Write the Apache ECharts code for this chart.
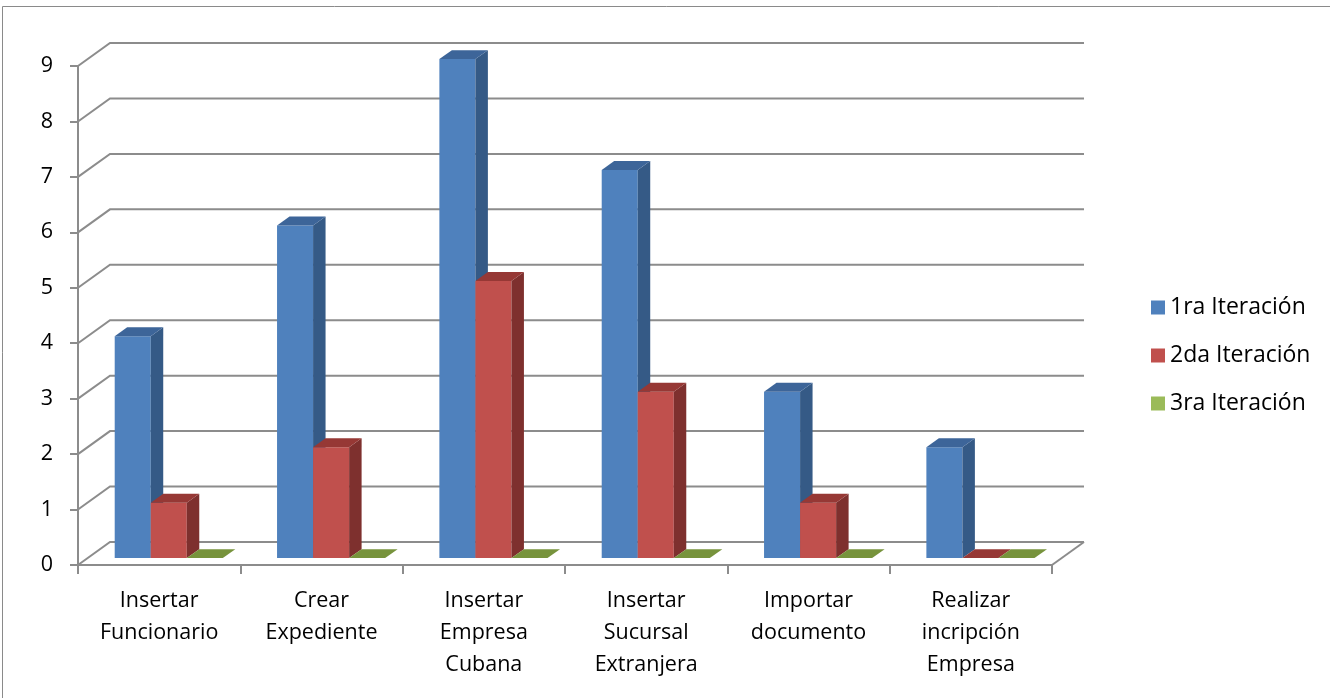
<!DOCTYPE html>
<html>
<head>
<meta charset="utf-8">
<script src="https://cdn.jsdelivr.net/npm/echarts@6/dist/echarts.min.js"></script>
<style>
  html, body { margin: 0; padding: 0; background: #fff; }
  #chart { width: 1330px; height: 698px; }
</style>
</head>
<body>
<div id="chart"></div>
<script>
// Categories (use cases) and defects found per test iteration
const categories = [
  'Insertar\nFuncionario',
  'Crear\nExpediente',
  'Insertar\nEmpresa\nCubana',
  'Insertar\nSucursal\nExtranjera',
  'Importar\ndocumento',
  'Realizar\nincripción\nEmpresa'
];
const seriesNames = ['1ra Iteración', '2da Iteración', '3ra Iteración'];
const iter1 = [4, 6, 9, 7, 3, 2];
const iter2 = [1, 2, 5, 3, 1, 0];
const iter3 = [0, 0, 0, 0, 0, 0];
const yTicks = [0, 1, 2, 3, 4, 5, 6, 7, 8, 9];

// Pseudo-3D look: depth vector of the floor and the slab occupied by the bars
const DEPTH = [32, -23];
const BAR_FRONT = 0.30;
const BAR_BACK = 0.69;
const BAR_FRAC = 0.222;
const GRID_COLOR = '#8c8c8c';
const FONT = '"Open Sans", "Noto Sans", sans-serif';

const palette = [
  { front: '#4F81BD', side: '#355a86', top: '#3d6599', legend: '#4F81BD' },
  { front: '#C0504D', side: '#7e302e', top: '#963835', legend: '#C0504D' },
  { front: '#9BBB59', side: '#6a833a', top: '#77933C', legend: '#9BBB59' }
];

const chart = echarts.init(document.getElementById('chart'), null, { renderer: 'canvas' });

// Side wall diagonals + back wall gridlines, one polyline per tick value
function wallRender(params, api) {
  const v = api.value(1);
  const cw = api.size([1, 0])[0];
  const left = api.coord([0, v])[0] - cw / 2;
  const right = api.coord([categories.length - 1, v])[0] + cw / 2;
  const y = api.coord([0, v])[1];
  const children = [{
    type: 'polyline',
    shape: { points: [[left, y], [left + DEPTH[0], y + DEPTH[1]], [right + DEPTH[0], y + DEPTH[1]]] },
    style: { stroke: GRID_COLOR, lineWidth: 2, fill: null }
  }];
  if (v === 0) {
    children.push({
      type: 'line',
      shape: { x1: right, y1: y, x2: right + DEPTH[0], y2: y + DEPTH[1] },
      style: { stroke: GRID_COLOR, lineWidth: 2 }
    });
  }
  return { type: 'group', children: children };
}

// Box-shaped bar: front face, right side face and top face
function makeBarRender(k) {
  const c = palette[k];
  return function (params, api) {
    const idx = api.value(0);
    const val = api.value(1);
    const cw = api.size([1, 0])[0];
    const bw = cw * BAR_FRAC;
    const center = api.coord([idx, 0])[0];
    const fx = BAR_FRONT * DEPTH[0], fy = BAR_FRONT * DEPTH[1];
    const dx = (BAR_BACK - BAR_FRONT) * DEPTH[0], dy = (BAR_BACK - BAR_FRONT) * DEPTH[1];
    const x0 = center - 1.5 * bw + k * bw + fx;
    const yb = api.coord([idx, 0])[1] + fy;
    const yt = api.coord([idx, val])[1] + fy;
    const x1 = x0 + bw;
    const children = [];
    if (yb - yt > 0.5) {
      children.push({
        type: 'rect',
        shape: { x: x0, y: yt, width: bw, height: yb - yt },
        style: { fill: c.front }
      });
      children.push({
        type: 'polygon',
        shape: { points: [[x1, yb], [x1, yt], [x1 + dx, yt + dy], [x1 + dx, yb + dy]] },
        style: { fill: c.side }
      });
    }
    children.push({
      type: 'polygon',
      shape: { points: [[x0, yt], [x1, yt], [x1 + dx, yt + dy], [x0 + dx, yt + dy]] },
      style: { fill: c.top }
    });
    return { type: 'group', children: children };
  };
}

const barData = [iter1, iter2, iter3].map(arr => arr.map((v, i) => [i, v]));

const option = {
  animation: false,
  backgroundColor: '#ffffff',
  textStyle: { fontFamily: FONT },
  grid: { left: 78, right: 278, top: 66, bottom: 133, containLabel: false },
  legend: {
    orient: 'vertical',
    left: 1146,
    top: 291,
    itemWidth: 14,
    itemHeight: 14,
    itemGap: 25,
    icon: 'rect',
    data: seriesNames,
    textStyle: { fontSize: 23, color: '#000', fontFamily: FONT }
  },
  xAxis: {
    type: 'category',
    data: categories,
    boundaryGap: true,
    axisLine: { show: true, lineStyle: { color: GRID_COLOR, width: 2 } },
    axisTick: { show: true, length: 9, interval: 0, lineStyle: { color: GRID_COLOR, width: 2 } },
    axisLabel: { interval: 0, margin: 20, fontSize: 21.5, lineHeight: 32, color: '#000', align: 'center' },
    splitLine: { show: false }
  },
  yAxis: {
    type: 'value',
    min: 0,
    max: 9,
    interval: 1,
    axisLine: { show: true, lineStyle: { color: GRID_COLOR, width: 2 } },
    axisTick: { show: true, length: 8, lineStyle: { color: GRID_COLOR, width: 2 } },
    axisLabel: { margin: 25, fontSize: 21.5, color: '#000' },
    splitLine: { show: false }
  },
  graphic: [{
    type: 'rect',
    shape: { x: 2.5, y: 6.5, width: 1400, height: 800 },
    style: { fill: null, stroke: '#8a8a8a', lineWidth: 1 },
    silent: true
  }],
  series: [
    {
      type: 'custom',
      name: 'walls',
      renderItem: wallRender,
      data: yTicks.map(v => [0, v]),
      clip: false,
      silent: true,
      z: 1
    }
  ].concat(seriesNames.map((name, k) => ({
    type: 'custom',
    name: name,
    renderItem: makeBarRender(k),
    data: barData[k],
    clip: false,
    itemStyle: { color: palette[k].legend },
    z: 2 + k
  })))
};

chart.setOption(option);
</script>
</body>
</html>
